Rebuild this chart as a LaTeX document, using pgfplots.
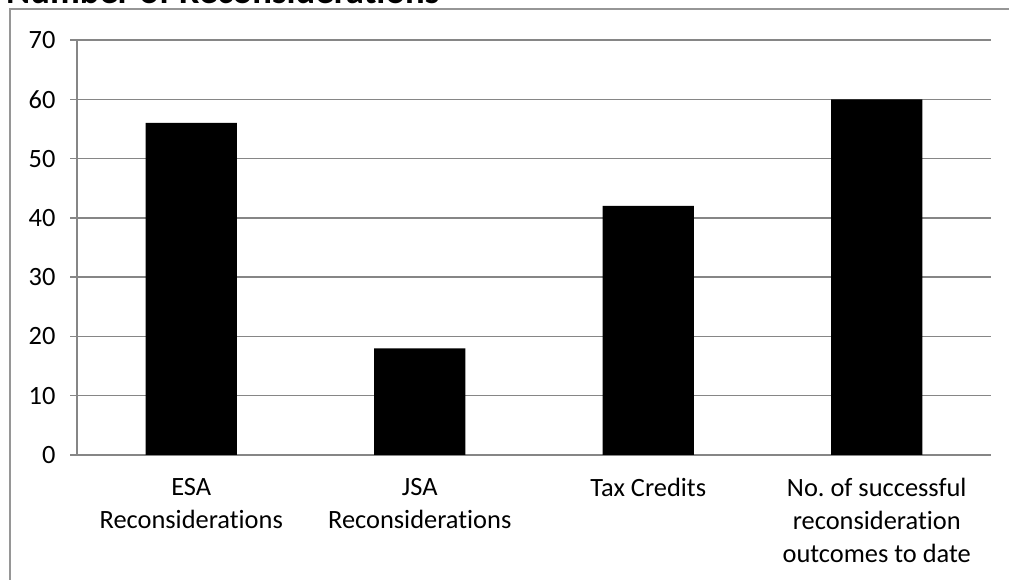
\documentclass[border=0pt]{standalone}
\usepackage{fontspec}
\setmainfont{Carlito}[Ligatures=NoCommon]
\usepackage{pgfplots}
\pgfplotsset{compat=1.18}
\definecolor{gridgray}{RGB}{134,134,134}
\definecolor{framegray}{RGB}{150,150,150}
\frenchspacing
\begin{document}
\begin{tikzpicture}[x=1bp,y=1bp]
\useasboundingbox (0,0) rectangle (1009,580);
\clip (0,0) rectangle (1009,580);
% chart frame (runs off the right and bottom edge)
\draw[framegray, line width=1.5bp] (10,-20) -- (10,571) -- (1030,571);
% title, mostly cut off at the top
\node[anchor=base west, inner sep=0pt, font=\fontsize{36.8}{44}\selectfont\bfseries]
  at (6,576) {Number of Reconsiderations};
\begin{axis}[
    at={(77bp,125bp)}, anchor=south west,
    scale only axis,
    width=914bp, height=415bp,
    xmin=0.5, xmax=4.5,
    ymin=0, ymax=70,
    ytick={0,10,...,70},
    xtick={1,2,3,4},
    xticklabels={{ESA\\Reconsiderations},{JSA\\Reconsiderations},{Tax Credits},{No. of successful\\reconsideration\\outcomes to date}},
    major x tick style={draw=none},
    extra x ticks={0.5,1.5,2.5,3.5,4.5},
    extra x tick labels={},
    extra x tick style={grid=none, tick style={draw=gridgray, line width=1.5bp}},
    axis x line=bottom, axis y line=left,
    axis line style={draw=gridgray, line width=1.5bp, -},
    tick align=outside,
    major tick length=7bp,
    ytick style={draw=gridgray, line width=1.5bp},
    ymajorgrids,
    grid style={draw=gridgray, line width=1.5bp},
    /pgf/number format/assume math mode=true,
    tick label style={font=\fontsize{26.5}{33}\selectfont},
    xticklabel style={align=center, anchor=north, yshift=-13bp},
    yticklabel style={anchor=east, xshift=-11bp},
    ybar, bar width=0.4,
    clip=false,
]
\addplot[fill=black, draw=none] coordinates {(1,56) (2,18) (3,42) (4,60)};
\end{axis}
\end{tikzpicture}
\end{document}
